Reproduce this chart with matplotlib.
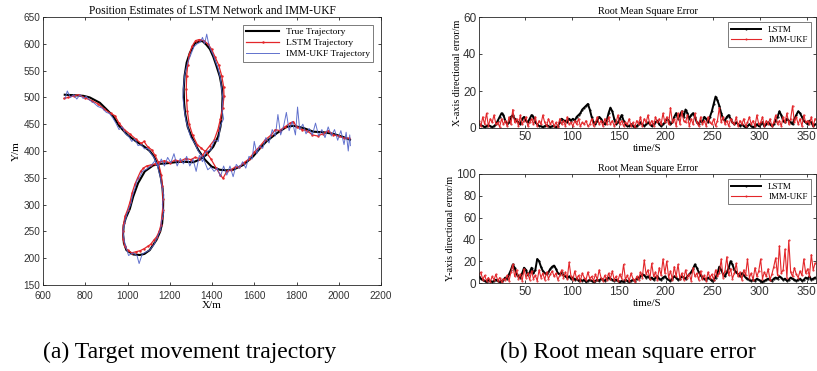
import numpy as np
import matplotlib
matplotlib.use("Agg")
import matplotlib.pyplot as plt

# ---- trajectory data (m) ----
true_x = [703, 750, 790, 821, 869, 900, 932, 960, 1000, 1040, 1080, 1105, 1125, 1145,
          1158, 1166, 1169, 1168, 1164, 1155, 1137, 1105, 1080, 1058, 1027, 995, 983, 979, 982,
          992, 1011, 1027, 1050, 1082, 1121,
          1150, 1185, 1225, 1263, 1311, 1342, 1374,
          1406, 1429, 1440, 1447, 1450, 1446, 1437, 1420, 1406, 1390, 1374, 1355, 1342, 1319,
          1295, 1280, 1270, 1266, 1268, 1273, 1285, 1303, 1335, 1366,
          1398, 1437, 1470, 1500, 1548, 1595, 1627, 1658, 1706, 1753, 1785, 1832, 1880, 1927,
          1974, 2022, 2053]
true_y = [505, 504, 503, 500, 490, 478, 465, 447, 430, 418, 408, 400, 390, 372,
          350, 330, 309, 285, 265, 250, 234, 215, 208, 206, 207, 215, 228, 245, 262,
          275, 292, 315, 340, 362, 373,
          376, 377, 379, 380, 379, 384, 393,
          408, 427, 445, 470, 502, 520, 539, 560, 576, 590, 598, 605, 605, 601,
          583, 565, 540, 515, 490, 470, 445, 427, 402, 384,
          371, 365, 364, 365, 374, 390, 405, 418, 433, 445, 447, 443, 436, 435,
          432, 426, 421]

lstm_x = [700, 720, 745, 770, 800, 830, 860, 890, 920, 940, 960, 985, 1010, 1040, 1065, 1078,
          1095, 1115, 1130, 1145,
          1160, 1165, 1168, 1166, 1162, 1158, 1150, 1138, 1125, 1110, 1095, 1080, 1060, 1040,
          1020, 1000, 987, 980, 977, 982, 988, 1000, 1012, 1022, 1035, 1048, 1062, 1075, 1090,
          1110, 1130,
          1150, 1175, 1200, 1225, 1250, 1275, 1300, 1320, 1340, 1355, 1370,
          1390, 1410, 1428, 1440, 1450, 1457, 1455, 1446, 1432, 1415, 1398, 1380, 1360, 1340,
          1322, 1305, 1292, 1285, 1280, 1278, 1280, 1283, 1292, 1308, 1330, 1350, 1372,
          1395, 1420, 1440, 1452, 1470, 1490, 1510, 1530, 1550, 1575, 1600, 1625, 1650, 1680,
          1700, 1720, 1745, 1770, 1785, 1800, 1825, 1850, 1875, 1900, 1925, 1950, 1975, 2000,
          2025, 2050]
lstm_y = [498, 500, 503, 505, 499, 494, 488, 478, 470, 466, 452, 440, 432, 422, 414, 418,
          408, 402, 392, 380,
          355, 335, 310, 290, 275, 262, 250, 240, 234, 226, 222, 218, 214, 212,
          210, 215, 222, 235, 250, 265, 278, 290, 305, 322, 338, 350, 362, 368, 372,
          374, 376,
          379, 382, 378, 383, 381, 386, 384, 388, 386, 392, 400,
          410, 420, 440, 460, 480, 502, 520, 540, 560, 575, 590, 600, 606, 608,
          606, 595, 580, 560, 540, 515, 495, 475, 450, 430, 412, 405, 398,
          385, 368, 355, 349, 362, 365, 370, 370, 378, 385, 398, 408, 420, 430,
          440, 438, 445, 452, 455, 445, 440, 438, 430, 428, 432, 438, 430, 428,
          424, 424]

ukf_x = [705, 715, 730, 745, 760, 775, 790, 805, 820, 840, 860, 880, 900, 915, 930, 945, 960,
         975, 990, 1005, 1020, 1035, 1050, 1065, 1080, 1095, 1110, 1125, 1140,
         1155, 1162, 1172, 1165, 1172, 1160, 1158, 1140, 1125, 1105, 1090, 1070, 1055, 1045,
         1025, 1005, 992, 985, 978, 985, 990, 1002, 1015, 1025, 1035, 1045, 1058, 1070, 1090,
         1110, 1130,
         1145, 1160, 1175, 1190, 1205, 1220, 1235, 1250, 1265, 1280, 1295, 1310, 1325, 1340,
         1355, 1370,
         1395, 1410, 1430, 1440, 1455, 1447, 1452, 1444, 1440, 1428, 1418, 1405, 1395, 1385,
         1375, 1365, 1355, 1345, 1330, 1315, 1300, 1285, 1272, 1265, 1262, 1268, 1275, 1288,
         1300, 1318, 1335, 1350, 1362,
         1380, 1395, 1410, 1425, 1440, 1455, 1470, 1485, 1500, 1515, 1530, 1545, 1560, 1575,
         1590, 1600, 1612, 1625, 1640, 1655, 1670, 1685, 1700, 1712, 1725, 1740, 1752, 1765,
         1780, 1795, 1805, 1815, 1830, 1845, 1860, 1875, 1890, 1905, 1920, 1935, 1950, 1965,
         1980, 1995, 2010, 2025, 2035, 2045, 2052, 2055]
ukf_y = [498, 512, 500, 505, 497, 505, 498, 502, 495, 490, 483, 480, 472, 470, 462, 452, 440,
         445, 432, 428, 418, 422, 410, 412, 404, 405, 396, 388, 375,
         352, 335, 318, 300, 285, 268, 255, 238, 225, 215, 212, 208, 190, 205,
         210, 205, 222, 232, 250, 262, 272, 288, 300, 318, 330, 345, 352, 362, 366,
         372, 382,
         370, 385, 372, 388, 378, 395, 372, 386, 376, 390, 372, 385, 362, 392,
         380, 398,
         402, 420, 418, 448, 460, 478, 498, 520, 535, 555, 565, 580, 588, 598,
         618, 600, 612, 603, 600, 595, 580, 565, 545, 520, 500, 480, 460, 440,
         425, 415, 400, 392, 383,
         365, 370, 362, 368, 352, 372, 355, 372, 352, 375, 368, 380, 368, 390,
         385, 418, 395, 410, 405, 425, 415, 440, 428, 468, 430, 448, 472, 438,
         455, 430, 482, 440, 450, 432, 442, 430, 452, 428, 440, 425, 445, 428,
         440, 420, 438, 412, 435, 400, 430, 410]

# ---- RMSE data (m), one value every 2 s ----
t = np.arange(1, 361, 2)

lstm_ex = [2, 1.5, 1, 0.5, 1, 1.5, 1, 0.5, 1, 2,
           4, 6, 8, 7, 4, 2, 3, 6, 7, 5,
           4, 3, 2, 5, 6, 4, 3, 5, 7, 6,
           3, 2, 1, 1, 0.5, 1, 1.5, 1, 0.5, 1,
           1, 0.5, 1, 3, 5, 4, 4, 3, 5, 4,
           5, 4, 6, 7, 8, 10, 11, 12, 13, 10,
           6, 3, 2, 4, 6, 5, 3, 2, 4, 8,
           11, 9, 5, 2, 3, 5, 7, 4, 2, 1,
           1, 2, 1, 0.5, 1, 2, 3, 2, 1, 2,
           3, 2, 1, 2, 3, 4, 2, 1, 2, 3,
           5, 4, 2, 3, 6, 8, 5, 7, 9, 6,
           10, 8, 5, 7, 8, 6, 3, 2, 4, 3,
           6, 5, 3, 6, 9, 13, 17, 15, 12, 8,
           5, 4, 6, 7, 5, 3, 2, 3, 2, 1,
           2, 1, 0.5, 1, 2, 1, 0.5, 1, 2, 1,
           2, 3, 1, 2, 3, 2, 1, 2, 4, 6,
           9, 7, 4, 3, 5, 4, 3, 2, 5, 7,
           9, 8, 6, 4, 3, 2, 4, 3, 1, 2]
ukf_ex = [4, 1, 6, 2, 8, 1, 5, 3, 7, 2,
          3, 0.5, 5, 2, 4, 1, 6, 2, 10, 3,
          5, 1, 7, 2, 4, 6, 1, 3, 5, 2,
          6, 1, 4, 2, 7, 3, 1, 5, 2, 4,
          1, 3, 0.5, 5, 2, 4, 1, 6, 2, 3,
          1, 4, 2, 5, 1, 3, 2, 4, 1, 2,
          5, 1, 3, 6, 2, 4, 1, 5, 2, 6,
          2, 4, 1, 3, 7, 2, 4, 1, 3, 2,
          5, 1, 3, 0.5, 4, 2, 6, 1, 5, 3,
          7, 2, 4, 1, 6, 3, 5, 2, 8, 3,
          6, 2, 11, 3, 5, 1, 8, 2, 9, 4,
          3, 7, 1, 5, 2, 8, 3, 1, 6, 2,
          4, 1, 6, 3, 2, 5, 1, 4, 11, 3,
          6, 2, 4, 1, 5, 3, 2, 6, 1, 4,
          2, 5, 1, 3, 6, 2, 4, 1, 7, 2,
          3, 6, 1, 4, 2, 5, 1, 3, 7, 2,
          4, 1, 6, 3, 8, 2, 5, 12, 3, 6,
          2, 5, 1, 7, 3, 4, 2, 6, 1, 5]
lstm_ey = [6, 4, 3, 2, 1, 3, 2, 1, 2, 3,
           2, 1, 2, 3, 5, 4, 8, 12, 17, 14,
           8, 6, 5, 9, 14, 12, 7, 10, 14, 9,
           12, 22, 20, 15, 11, 9, 8, 10, 13, 15,
           16, 13, 9, 8, 10, 7, 6, 5, 6, 4,
           5, 3, 4, 2, 3, 2, 3, 1, 2, 3,
           2, 1, 2, 3, 2, 4, 3, 2, 4, 5,
           4, 3, 2, 3, 2, 1, 2, 1, 3, 2,
           1, 2, 3, 2, 4, 5, 6, 8, 7, 5,
           6, 4, 5, 3, 5, 6, 4, 3, 5, 6,
           4, 3, 2, 4, 6, 5, 3, 4, 6, 5,
           4, 6, 8, 10, 13, 17, 14, 10, 7, 5,
           4, 3, 5, 4, 2, 3, 5, 9, 15, 12,
           8, 6, 10, 14, 20, 17, 12, 10, 8, 6,
           9, 7, 5, 4, 3, 2, 3, 2, 4, 3,
           2, 1, 2, 3, 4, 3, 2, 4, 5, 4,
           6, 5, 3, 4, 2, 3, 5, 4, 3, 2,
           3, 4, 2, 3, 5, 4, 6, 3, 4, 5]
ukf_ey = [8, 10, 3, 7, 2, 5, 1, 6, 3, 8,
          2, 5, 1, 4, 3, 7, 2, 10, 17, 6,
          12, 4, 8, 2, 13, 5, 9, 3, 11, 4,
          7, 2, 12, 5, 9, 3, 10, 4, 8, 11,
          6, 9, 3, 7, 12, 5, 10, 4, 19, 6,
          3, 11, 4, 7, 2, 9, 5, 3, 10, 4,
          6, 2, 8, 3, 12, 5, 2, 7, 3, 9,
          4, 11, 3, 6, 2, 8, 4, 17, 3, 7,
          2, 9, 4, 1, 6, 3, 10, 5, 21, 8,
          12, 4, 18, 6, 10, 3, 14, 7, 22, 9,
          20, 5, 11, 3, 15, 6, 17, 4, 9, 3,
          12, 5, 8, 2, 14, 6, 9, 3, 11, 4,
          7, 2, 10, 5, 8, 3, 12, 6, 9, 22,
          5, 11, 24, 7, 13, 4, 9, 18, 6, 10,
          3, 12, 7, 22, 5, 9, 3, 14, 6, 11,
          22, 4, 10, 6, 13, 3, 8, 15, 23, 7,
          34, 9, 12, 31, 5, 39, 10, 6, 14, 8,
          5, 11, 7, 22, 9, 13, 6, 26, 12, 18]

RED = "#e3262a"
BLUE = "#5062c8"
SERIF = ["Liberation Serif", "DejaVu Serif"]
SANS = ["Liberation Sans", "DejaVu Sans"]

plt.rcParams["font.family"] = SANS
plt.rcParams["axes.edgecolor"] = "#262626"
plt.rcParams["xtick.color"] = "#262626"
plt.rcParams["ytick.color"] = "#262626"


def style_axes(ax, size):
    ax.tick_params(direction="in", length=2.5, width=0.6, labelsize=size,
                   top=True, right=True, pad=2, labelcolor="#333333")
    for s in ax.spines.values():
        s.set_linewidth(0.6)


def add_legend(ax, size, pad):
    leg = ax.legend(loc="upper right", prop={"family": SERIF, "size": size},
                    handlelength=3.4, fancybox=False, edgecolor="#404040",
                    borderaxespad=pad, labelspacing=0.25, borderpad=0.35)
    leg.get_frame().set_linewidth(0.6)


fig = plt.figure(figsize=(8.17, 3.71), dpi=100)

# (a) trajectory
ax1 = fig.add_axes([43 / 817, 86 / 371, 338 / 817, 268 / 371])
ax1.plot(true_x, true_y, color="black", lw=1.5, label="True Trajectory")
ax1.plot(lstm_x, lstm_y, color=RED, lw=0.9, marker=".", ms=1.5, label="LSTM Trajectory")
ax1.plot(ukf_x, ukf_y, color=BLUE, lw=0.7, alpha=0.9, label="IMM-UKF Trajectory")
ax1.set_xlim(600, 2200)
ax1.set_ylim(150, 650)
ax1.set_xticks(np.arange(600, 2201, 200))
ax1.set_yticks(np.arange(150, 651, 50))
style_axes(ax1, 7.2)
ax1.tick_params(axis="x", pad=4)
ax1.set_title("Position Estimates of LSTM Network and IMM-UKF", fontsize=8.3,
              family=SERIF, pad=2)
ax1.set_xlabel("X/m", fontsize=8, family=SERIF, labelpad=0)
ax1.set_ylabel("Y/m", fontsize=8, family=SERIF, labelpad=2)
add_legend(ax1, 6.8, 0.8)

# (b) RMSE, x direction
ax2 = fig.add_axes([479 / 817, 243 / 371, 337 / 817, 111 / 371])
ax2.plot(t, lstm_ex, color="black", lw=1.4, marker=".", ms=1, label="LSTM")
ax2.plot(t, ukf_ex, color=RED, lw=0.8, marker=".", ms=1, label="IMM-UKF")
ax2.set_xlim(1, 360)
ax2.set_ylim(0, 60)
ax2.set_xticks(np.arange(50, 351, 50))
ax2.set_yticks([0, 20, 40, 60])
style_axes(ax2, 8.5)
ax2.set_title("Root Mean Square Error", fontsize=7.3, family=SERIF, pad=2)
ax2.set_xlabel("time/S", fontsize=7.8, family=SERIF, labelpad=1)
ax2.set_ylabel("X-axis directional error/m", fontsize=7.3, family=SERIF, labelpad=1)
add_legend(ax2, 6.4, 0.6)

# (b) RMSE, y direction
ax3 = fig.add_axes([479 / 817, 88 / 371, 337 / 817, 109 / 371])
ax3.plot(t, lstm_ey, color="black", lw=1.4, marker=".", ms=1, label="LSTM")
ax3.plot(t, ukf_ey, color=RED, lw=0.8, marker=".", ms=1, label="IMM-UKF")
ax3.set_xlim(1, 360)
ax3.set_ylim(0, 100)
ax3.set_xticks(np.arange(50, 351, 50))
ax3.set_yticks(np.arange(0, 101, 20))
style_axes(ax3, 8.5)
ax3.set_title("Root Mean Square Error", fontsize=7.3, family=SERIF, pad=2)
ax3.set_xlabel("time/S", fontsize=7.8, family=SERIF, labelpad=1)
ax3.set_ylabel("Y-axis directional error/m", fontsize=7.3, family=SERIF, labelpad=1)
add_legend(ax3, 6.4, 0.6)

# captions
fig.text(190 / 817, 19 / 371, "(a) Target movement trajectory", ha="center",
         va="center", fontsize=17, family=SERIF)
fig.text(628 / 817, 19 / 371, "(b) Root mean square error", ha="center",
         va="center", fontsize=17, family=SERIF)

fig.savefig("out.png", dpi=100)
